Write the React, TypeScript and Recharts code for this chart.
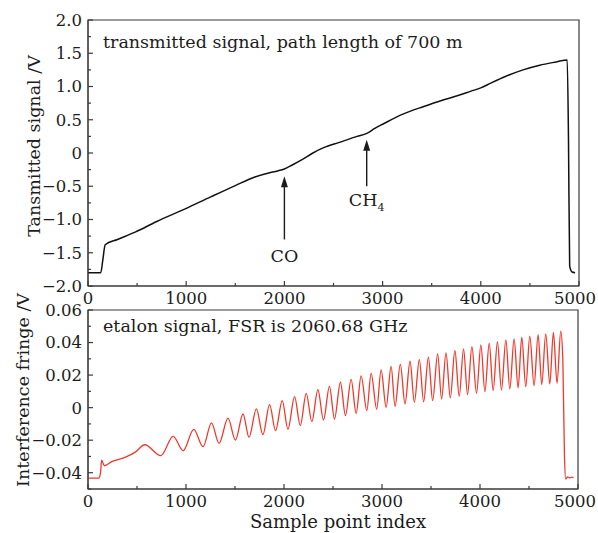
import { Line, LineChart, ReferenceArea, ReferenceLine, XAxis, YAxis } from "recharts";

const FONT = "'DejaVu Serif', serif";
const INK = "#1c1c1c";
const AXIS = "#3a3a3a";
const RED = "#f0392b";

// upper panel: transmitted signal (V) against sample index
const transX = [
  0, 130, 150, 175, 300, 480, 700, 990, 1250, 1500, 1700, 1840, 1930, 2000, 2080, 2180, 2290, 2400, 2560, 2740,
  2840, 2920, 3010, 3200, 3420, 3600, 3760, 3900, 4000, 4100, 4250, 4430, 4600, 4770, 4880, 4893, 4905, 4930, 4960,
];
const transV = [
  -1.8, -1.8, -1.62, -1.38, -1.3, -1.19, -1.03, -0.84, -0.66, -0.49, -0.36, -0.3, -0.27, -0.24, -0.18, -0.1, 0.0,
  0.08, 0.16, 0.25, 0.296, 0.37, 0.44, 0.58, 0.7, 0.79, 0.86, 0.93, 0.98, 1.05, 1.15, 1.25, 1.32, 1.37, 1.4, 0.2,
  -1.7, -1.79, -1.8,
];

// lower panel: etalon fringe (V) read at the peaks and troughs
const fringeX = [
  0, 110, 128, 139, 166, 241, 377, 479, 580, 743, 869, 971, 1079, 1174, 1260, 1337, 1429, 1504, 1582, 1643,
  1718, 1785, 1853, 1914, 1982, 2040, 2108, 2166, 2227, 2284, 2346, 2403, 2464, 2515, 2576, 2627, 2685, 2736,
  2787, 2845, 2889, 2946, 2991, 3042, 3093, 3133, 3187, 3235, 3286, 3330, 3381, 3425, 3473, 3517, 3568, 3608,
  3653, 3697, 3744, 3788, 3832, 3873, 3917, 3965, 4009, 4050, 4094, 4134, 4178, 4219, 4264, 4304, 4348, 4389,
  4426, 4467, 4508, 4552, 4593, 4630, 4671, 4712, 4749, 4786, 4824, 4845, 4862, 4875, 4895, 4915, 4935, 4955,
];
const fringeV = [
  -0.0433, -0.0433, -0.04, -0.0322, -0.0357, -0.0332, -0.0306, -0.0275, -0.0228, -0.0295, -0.0177, -0.0265,
  -0.0133, -0.024, -0.0094, -0.022, -0.0064, -0.0199, -0.0039, -0.0183, -0.0008, -0.0166, 0.0018, -0.0142,
  0.0043, -0.0133, 0.0068, -0.0111, 0.0088, -0.0086, 0.0111, -0.0076, 0.0131, -0.007, 0.0156, -0.0049, 0.0174,
  -0.0035, 0.0195, -0.0018, 0.0211, -0.001, 0.0232, 0.0002, 0.0254, 0.0008, 0.0266, 0.0023, 0.0285, 0.0033,
  0.0295, 0.0035, 0.031, 0.0043, 0.033, 0.0053, 0.0336, 0.006, 0.0351, 0.007, 0.0361, 0.008, 0.0375, 0.0088,
  0.0386, 0.0098, 0.0396, 0.0105, 0.0406, 0.0108, 0.0417, 0.0115, 0.0423, 0.0121, 0.0433, 0.0129, 0.0439,
  0.0135, 0.0449, 0.0142, 0.0453, 0.0146, 0.0462, 0.015, 0.047, 0.03, -0.03, -0.0439, -0.0425, -0.0432, -0.0427,
  -0.043,
];

const sampleTicks = [0, 500, 1000, 1500, 2000, 2500, 3000, 3500, 4000, 4500, 5000];
const transTicks = [-2, -1.75, -1.5, -1.25, -1, -0.75, -0.5, -0.25, 0, 0.25, 0.5, 0.75, 1, 1.25, 1.5, 1.75, 2];
const fringeTicks = [-0.05, -0.04, -0.03, -0.02, -0.01, 0, 0.01, 0.02, 0.03, 0.04, 0.05, 0.06];

const transData = transX.map((x, i) => ({ x, v: transV[i] }));
const fringeData = fringeX.map((x, i) => ({ x, v: fringeV[i] }));

const minus = (s: string) => s.replace("-", "\u2212");
const fmtTrans = (v: number) => (v === 0 ? "0" : minus(v.toFixed(1)));
const fmtFringe = (v: number) => (Math.abs(v) < 1e-9 ? "0" : minus(v.toFixed(2)));
const isMajorTrans = (v: number) => Math.abs(v * 2 - Math.round(v * 2)) < 1e-9;
const isMajorFringe = (v: number) => Math.round(v * 100) % 2 === 0;

function XTick(props: any) {
  const { x, y, payload } = props;
  const v = payload.value;
  const major = v % 1000 === 0;
  // keep the last label inside the page
  const tx = Math.min(x, 575);
  return (
    <g>
      <line x1={x} x2={x} y1={y} y2={y - (major ? 5 : 3)} stroke={AXIS} strokeWidth={1.2} />
      {major && (
        <text x={tx} y={y + 18} textAnchor="middle" fill={INK} fontSize={16.5} fontFamily={FONT}>
          {v}
        </text>
      )}
    </g>
  );
}

const yTick = (isMajor: (v: number) => boolean, fmt: (v: number) => string) => (props: any) => {
  const { x, y, payload } = props;
  const v = payload.value;
  const major = isMajor(v);
  return (
    <g>
      <line x1={x} x2={x + (major ? 5 : 3)} y1={y} y2={y} stroke={AXIS} strokeWidth={1.2} />
      {major && (
        <text x={x - 6} y={y} dy="0.36em" textAnchor="end" fill={INK} fontSize={16.5} fontFamily={FONT}>
          {fmt(v)}
        </text>
      )}
    </g>
  );
};

const yTitle = (text: string, cx: number, cy: number) => ({
  content: () => (
    <text
      transform={`translate(${cx},${cy}) rotate(-90)`}
      textAnchor="middle"
      dy="0.35em"
      fill={INK}
      fontSize={17.5}
      fontFamily={FONT}
    >
      {text}
    </text>
  ),
});

const panelNote = (text: string, dy: number) => ({
  content: (p: any) => (
    <text x={p.viewBox.x + 15} y={p.viewBox.y + dy} fill={INK} fontSize={17.5} fontFamily={FONT}>
      {text}
    </text>
  ),
});

const arrow = (label: React.ReactNode, gap: number) => (p: any) => {
  const { x1, y1, x2, y2 } = p;
  return (
    <g>
      <line x1={x1} y1={y1} x2={x2} y2={y2 + 8} stroke={INK} strokeWidth={1.4} />
      <polygon points={`${x2},${y2} ${x2 - 3.5},${y2 + 11} ${x2 + 3.5},${y2 + 11}`} fill={INK} />
      <text x={x1} y={y1 + gap} textAnchor="middle" fill={INK} fontSize={17.5} fontFamily={FONT}>
        {label}
      </text>
    </g>
  );
};

export default function App() {
  return (
    <div style={{ position: "absolute", left: 0, top: 0, width: 598, height: 533, background: "#fff" }}>
      <div style={{ position: "absolute", left: 0, top: 0 }}>
        <LineChart width={598} height={310} data={transData} margin={{ top: 20, right: 19, bottom: 0, left: 8 }}>
          <XAxis
            type="number"
            dataKey="x"
            domain={[0, 5000]}
            ticks={sampleTicks}
            interval={0}
            height={24}
            tickSize={0}
            tickMargin={0}
            tickLine={false}
            axisLine={{ stroke: AXIS }}
            tick={XTick}
          />
          <YAxis
            type="number"
            domain={[-2, 2]}
            ticks={transTicks}
            interval={0}
            width={80}
            tickSize={0}
            tickMargin={0}
            tickLine={false}
            axisLine={{ stroke: AXIS }}
            tick={yTick(isMajorTrans, fmtTrans)}
            label={yTitle("Tansmitted signal /V", 34, 146)}
          />
          <ReferenceArea
            x1={0}
            x2={5000}
            y1={-2}
            y2={2}
            fill="none"
            stroke={AXIS}
            strokeWidth={1.2}
            label={panelNote("transmitted signal, path length of 700 m", 28)}
          />
          <ReferenceLine segment={[{ x: 2000, y: -1.3 }, { x: 2000, y: -0.35 }]} shape={arrow("CO", 23)} />
          <ReferenceLine
            segment={[{ x: 2838, y: -0.5 }, { x: 2838, y: 0.2 }]}
            shape={arrow(
              <>
                CH
                <tspan fontSize={11} dy={5}>
                  4
                </tspan>
              </>,
              20,
            )}
          />
          <Line
            type="monotone"
            dataKey="v"
            stroke="#111"
            strokeWidth={1.5}
            dot={false}
            isAnimationActive={false}
          />
        </LineChart>
      </div>
      <div style={{ position: "absolute", left: 0, top: 280 }}>
        <LineChart width={598} height={253} data={fringeData} margin={{ top: 30, right: 20, bottom: 0, left: 8 }}>
          <XAxis
            type="number"
            dataKey="x"
            domain={[0, 5000]}
            ticks={sampleTicks}
            interval={0}
            height={44}
            tickSize={0}
            tickMargin={0}
            tickLine={false}
            axisLine={{ stroke: AXIS }}
            tick={XTick}
            label={{
              value: "Sample point index",
              position: "insideBottom",
              offset: 5,
              fill: INK,
              fontSize: 18,
              fontFamily: FONT,
              dx: 5,
            }}
          />
          <YAxis
            type="number"
            domain={[-0.05, 0.06]}
            ticks={fringeTicks}
            interval={0}
            width={80}
            tickSize={0}
            tickMargin={0}
            tickLine={false}
            axisLine={{ stroke: AXIS }}
            tick={yTick(isMajorFringe, fmtFringe)}
            label={yTitle("Interference fringe /V", 23, 110)}
          />
          <ReferenceArea
            x1={0}
            x2={5000}
            y1={-0.05}
            y2={0.06}
            fill="none"
            stroke={AXIS}
            strokeWidth={1.2}
            label={panelNote("etalon signal, FSR is 2060.68 GHz", 22)}
          />
          <Line
            type="monotone"
            dataKey="v"
            stroke={RED}
            strokeWidth={1.3}
            dot={false}
            isAnimationActive={false}
          />
        </LineChart>
      </div>
    </div>
  );
}
